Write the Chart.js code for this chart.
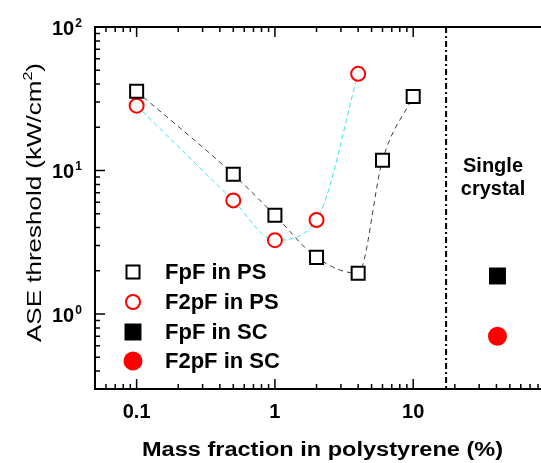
<!DOCTYPE html>
<html><head><meta charset="utf-8">
<script src="https://cdn.jsdelivr.net/npm/chart.js@4/dist/chart.umd.min.js"></script>
<style>html,body{margin:0;padding:0;background:#fff}canvas{display:block}</style>
</head><body>
<canvas id="c" width="541" height="463"></canvas>
<script>
// ---- data ----
const psFractions = [0.1, 0.5, 1, 2, 4, 6, 10];
const fpfInPS = [35.6, 9.4, 4.87, 2.48, 1.92, 11.8, 32.8];
const f2pfFractions = [0.1, 0.5, 1, 2, 4];
const f2pfInPS = [28.3, 6.19, 3.27, 4.52, 47.2];
const singleCrystalX = [40.7];
const fpfInSC = [1.84];
const f2pfInSC = [0.70];
const separatorX = 17.3;
const xTickValues = [0.1, 1, 10];
const xTickLabels = ['0.1', '1', '10'];
const yTickValues = [1, 10, 100];
const yTickExponents = ['0', '1', '2'];
const legendLabels = ['FpF in PS', 'F2pF in PS', 'FpF in SC', 'F2pF in SC'];
const xTitle = 'Mass fraction in polystyrene (%)';
const yTitleMain = 'ASE threshold (kW/cm';
const yTitleSup = '2';
const yTitleEnd = ')';
const sideNote = ['Single', 'crystal'];

const FONT = '"Liberation Sans", Arial, Helvetica, sans-serif';
const toPts = (xs, ys) => xs.map((x, i) => ({x: x, y: ys[i]}));

const markerStyles = [
  {pointStyle: 'rect', radius: 9.2, borderColor: '#000', backgroundColor: '#fff', borderWidth: 2},
  {pointStyle: 'circle', radius: 7, borderColor: '#ff0000', backgroundColor: '#fff', borderWidth: 2},
  {pointStyle: 'rect', radius: 12, borderColor: '#000', backgroundColor: '#000', borderWidth: 0},
  {pointStyle: 'circle', radius: 9.5, borderColor: '#ff0000', backgroundColor: '#ff0000', borderWidth: 0}
];

function ds(label, pts, m, line) {
  return Object.assign({
    label: label, data: pts,
    pointStyle: m.pointStyle, pointRadius: m.radius, pointHoverRadius: m.radius,
    pointBorderColor: m.borderColor, pointBackgroundColor: m.backgroundColor,
    pointBorderWidth: m.borderWidth
  }, line);
}

function drawMarker(ctx, m, x, y) {
  ctx.save();
  ctx.lineWidth = m.borderWidth;
  ctx.strokeStyle = m.borderColor;
  ctx.fillStyle = m.backgroundColor;
  ctx.beginPath();
  if (m.pointStyle === 'rect') {
    const s = Math.SQRT1_2 * m.radius;
    ctx.rect(x - s, y - s, 2 * s, 2 * s);
  } else {
    ctx.arc(x, y, m.radius, 0, Math.PI * 2);
  }
  ctx.fill();
  if (m.borderWidth > 0) ctx.stroke();
  ctx.restore();
}

const decorations = {
  id: 'decorations',
  afterDatasetsDraw(chart) {
    const ctx = chart.ctx;
    const xs = chart.scales.x, ys = chart.scales.y;
    const a = chart.chartArea;
    ctx.save();
    ctx.strokeStyle = '#000';
    ctx.fillStyle = '#000';
    ctx.lineWidth = 2;
    // axis lines
    ctx.beginPath();
    ctx.moveTo(a.left, a.top); ctx.lineTo(a.right + 2, a.top);
    ctx.moveTo(a.left, a.top - 1); ctx.lineTo(a.left, a.bottom + 1);
    ctx.moveTo(a.left - 1, a.bottom); ctx.lineTo(a.right + 2, a.bottom);
    ctx.stroke();
    // ticks
    ctx.lineWidth = 1.5;
    ctx.beginPath();
    for (let e = -2; e <= 2; e++) {
      for (let k = 1; k <= 9; k++) {
        const v = k * Math.pow(10, e);
        const len = k === 1 ? 10 : 5;
        if (v >= xs.min && v <= xs.max) {
          const px = xs.getPixelForValue(v);
          ctx.moveTo(px, a.bottom); ctx.lineTo(px, a.bottom - len);
          if (v <= 10.001) { ctx.moveTo(px, a.top); ctx.lineTo(px, a.top + len); }
        }
        if (v > ys.min && v < ys.max + 1) {
          const py = ys.getPixelForValue(v);
          ctx.moveTo(a.left, py); ctx.lineTo(a.left + len, py);
        }
      }
    }
    ctx.stroke();
    // separator dash-dot line
    const sx = xs.getPixelForValue(separatorX);
    ctx.lineWidth = 2;
    ctx.setLineDash([6, 3, 2, 3]);
    ctx.beginPath();
    ctx.moveTo(sx, a.top); ctx.lineTo(sx, a.bottom);
    ctx.stroke();
    ctx.setLineDash([]);
    // x tick labels
    ctx.font = 'bold 20px ' + FONT;
    ctx.textAlign = 'center';
    ctx.textBaseline = 'middle';
    xTickValues.forEach((v, i) => {
      ctx.fillText(xTickLabels[i], xs.getPixelForValue(v), 412);
    });
    // y tick labels 10^n
    ctx.textBaseline = 'alphabetic';
    yTickValues.forEach((v, i) => {
      const py = ys.getPixelForValue(v);
      ctx.font = 'bold 20px ' + FONT;
      ctx.textAlign = 'left';
      ctx.fillText('10', 52, py + 8);
      const w = ctx.measureText('10').width;
      ctx.font = 'bold 12px ' + FONT;
      ctx.fillText(yTickExponents[i], 52 + w + 1, py);
    });
    // x title
    ctx.font = 'bold 20px ' + FONT;
    ctx.textAlign = 'center';
    let w = ctx.measureText(xTitle).width;
    ctx.save();
    ctx.translate(322.5, 456);
    ctx.scale(361 / w, 1);
    ctx.fillText(xTitle, 0, 0);
    ctx.restore();
    // y title (rotated)
    ctx.textAlign = 'left';
    ctx.font = '21px ' + FONT;
    const wm = ctx.measureText(yTitleMain).width;
    const we = ctx.measureText(yTitleEnd).width;
    ctx.font = '13px ' + FONT;
    const wsup = ctx.measureText(yTitleSup).width;
    const total = wm + wsup + we;
    ctx.save();
    ctx.translate(41, 202.5);
    ctx.rotate(-Math.PI / 2);
    ctx.scale(279 / total, 1);
    ctx.font = '21px ' + FONT;
    ctx.fillText(yTitleMain, -total / 2, 0);
    ctx.fillText(yTitleEnd, -total / 2 + wm + wsup, 0);
    ctx.font = '13px ' + FONT;
    ctx.fillText(yTitleSup, -total / 2 + wm, -9);
    ctx.restore();
    // side note
    ctx.font = 'bold 20px ' + FONT;
    ctx.textAlign = 'center';
    ctx.fillText(sideNote[0], 493, 172);
    ctx.fillText(sideNote[1], 493, 195);
    // legend
    const rows = [272, 302, 332, 361];
    ctx.font = 'bold 22px ' + FONT;
    ctx.textAlign = 'left';
    ctx.textBaseline = 'middle';
    legendLabels.forEach((t, i) => {
      drawMarker(ctx, markerStyles[i], 133, rows[i]);
      ctx.fillStyle = '#000';
      ctx.fillText(t, 165, rows[i] + 1);
    });
    ctx.restore();
  }
};

new Chart(document.getElementById('c'), {
  type: 'scatter',
  data: {
    datasets: [
      ds(legendLabels[0], toPts(psFractions, fpfInPS), markerStyles[0],
         {showLine: true, borderColor: '#404040', borderWidth: 1, borderDash: [5, 4], cubicInterpolationMode: 'monotone'}),
      ds(legendLabels[1], toPts(f2pfFractions, f2pfInPS), markerStyles[1],
         {showLine: true, borderColor: '#3fe3ee', borderWidth: 1, borderDash: [5, 3], cubicInterpolationMode: 'monotone'}),
      ds(legendLabels[2], toPts(singleCrystalX, fpfInSC), markerStyles[2], {showLine: false}),
      ds(legendLabels[3], toPts(singleCrystalX, f2pfInSC), markerStyles[3], {showLine: false})
    ]
  },
  options: {
    responsive: false,
    animation: false,
    layout: {autoPadding: false, padding: {left: 95, top: 27, right: 0, bottom: 74}},
    plugins: {legend: {display: false}, tooltip: {enabled: false}},
    scales: {
      x: {type: 'logarithmic', min: 0.05, max: 84, display: false},
      y: {type: 'logarithmic', min: 0.3, max: 100, display: false}
    }
  },
  plugins: [decorations]
});
</script>
</body></html>
